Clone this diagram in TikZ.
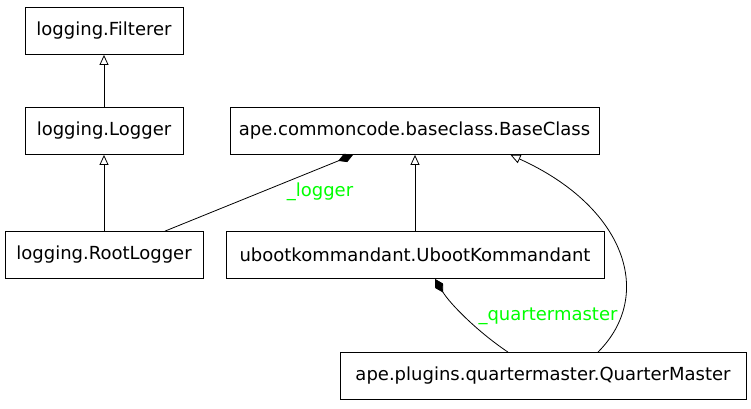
\documentclass[tikz,border=0pt]{standalone}
\usepackage{fontspec}
\setmainfont{DejaVu Sans}
\usetikzlibrary{arrows.meta}

\begin{document}
\begin{tikzpicture}
  [x=1pt,y=1pt,
   cls/.style={draw,line width=0.8pt,rectangle,inner xsep=0pt,minimum height=47pt,
     font=\fontsize{18}{21}\selectfont},
   lbl/.style={text=green,inner sep=0pt,font=\fontsize{18}{21}\selectfont},
   inh/.style={-{Triangle[open,length=10pt,width=9pt]},line width=0.8pt},
   comp/.style={-{Diamond[length=16pt,width=9pt]},line width=0.8pt}]
  \useasboundingbox (0,0) rectangle (751,-408);
  \node[cls,minimum width=158] (filt)  at (104,-31)   {logging.Filterer};
  \node[cls,minimum width=158] (log)   at (104,-131)  {logging.Logger};
  \node[cls,minimum width=198] (root)  at (104,-255)  {logging.RootLogger};
  \node[cls,minimum width=369] (base)  at (414.5,-131) {ape.commoncode.baseclass.BaseClass};
  \node[cls,minimum width=378] (uboot) at (415,-255)  {ubootkommandant.UbootKommandant};
  \node[cls,minimum width=406] (qm)    at (543,-376)  {ape.plugins.quartermaster.QuarterMaster};

    \draw[inh] (log) -- (filt);
    \draw[inh] (root) -- (log);
    \draw[inh] (uboot.north) -- (uboot.north |- base.south);
    \draw[comp] ([xshift=61]root.north) -- ([xshift=-61.5]base.south);
    \draw[comp] ([xshift=-35]qm.north) .. controls +(-30,20) and +(15,-25) .. ([xshift=20]uboot.south);
    \draw[inh] ([xshift=55]qm.north) .. controls +(57,57) and +(115,-52) .. ([xshift=96]base.south);

  \node[lbl] (l1) at (320,-192) {\_logger};
  \node[lbl] (l2) at (548,-316) {\_quartermaster};
\end{tikzpicture}
\end{document}
